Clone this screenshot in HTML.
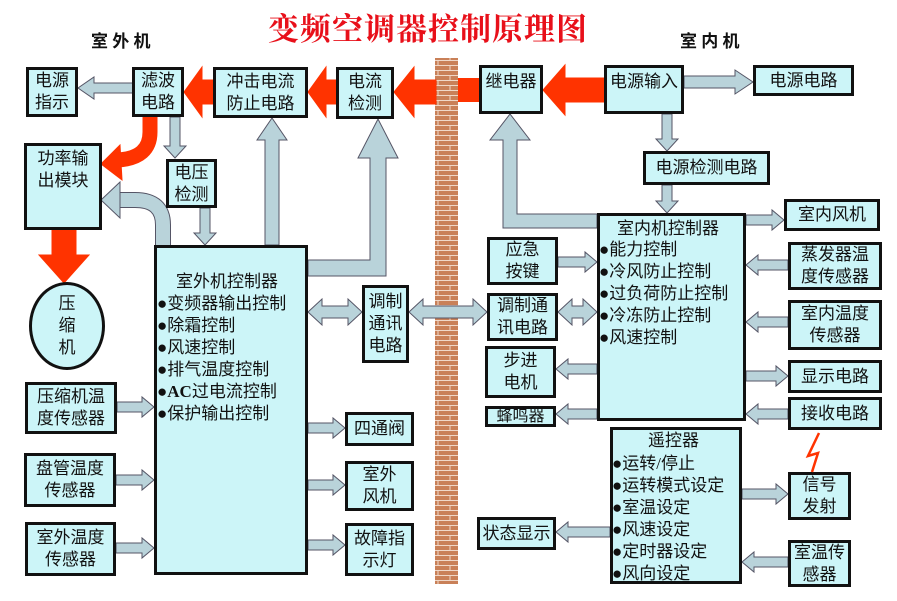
<!DOCTYPE html>
<html><head><meta charset="utf-8">
<style>
body{margin:0;width:897px;height:601px;background:#fff;position:relative;overflow:hidden;font-family:"Liberation Serif","Noto Sans CJK SC",sans-serif;}
.b{position:absolute;box-sizing:border-box;background:#ccf5f8;border:3px solid #111;display:flex;align-items:center;justify-content:center;text-align:center;font-size:17px;line-height:22px;color:#111;}
.l{position:absolute;font-size:17px;line-height:22px;color:#111;white-space:nowrap;}
svg{position:absolute;left:0;top:0;}
</style></head><body>
<svg width="897" height="601" id="s">
<defs><pattern id="br" width="24" height="10" patternUnits="userSpaceOnUse">
<rect width="24" height="10" fill="#c98058"/>
<path d="M0 0.5H24M0 5.5H24M6 0V5M18 5V10" stroke="#f0d8c8" stroke-width="1"/>
</pattern></defs>
<rect x="435" y="58" width="23" height="526" fill="url(#br)"/>
<g id="g"></g>
</svg>
<div style="position:absolute;left:268px;top:4px;font-size:31px;font-weight:bold;color:#e8101a;font-family:'Liberation Serif','Noto Serif CJK SC',serif;letter-spacing:1px;">变频空调器控制原理图</div>
<div class="l" style="left:91px;top:31px;font-weight:bold;font-size:17px;">室 外 机</div>
<div class="l" style="left:680px;top:31px;font-weight:bold;font-size:17px;">室 内 机</div>

<div class="b" style="left:26px;top:67px;width:52px;height:50px;">电源<br>指示</div>
<div class="b" style="left:132px;top:67px;width:52px;height:50px;">滤波<br>电路</div>
<div class="b" style="left:213px;top:67px;width:95px;height:51px;">冲击电流<br>防止电路</div>
<div class="b" style="left:336px;top:67px;width:58px;height:52px;">电流<br>检测</div>
<div class="b" style="left:24px;top:143px;width:78px;height:87px;align-items:flex-start;padding-top:2px;">功率输<br>出模块</div>
<div class="b" style="left:166px;top:159px;width:51px;height:49px;">电压<br>检测</div>
<div class="b" style="left:29px;top:282px;width:76px;height:88px;border-radius:50%;">压<br>缩<br>机</div>
<div class="b" style="left:154px;top:245px;width:154px;height:330px;"></div>
<div class="l" style="left:176px;top:271px;">室外机控制器</div>
<div class="l" style="left:157px;top:293px;line-height:22px;">●变频器输出控制<br>●除霜控制<br>●风速控制<br>●排气温度控制<br>●<b>AC</b>过电流控制<br>●保护输出控制</div>
<div class="b" style="left:362px;top:285px;width:47px;height:78px;">调制<br>通讯<br>电路</div>
<div class="b" style="left:25px;top:382px;width:92px;height:52px;">压缩机温<br>度传感器</div>
<div class="b" style="left:24px;top:453px;width:92px;height:54px;">盘管温度<br>传感器</div>
<div class="b" style="left:25px;top:522px;width:91px;height:54px;">室外温度<br>传感器</div>
<div class="b" style="left:345px;top:412px;width:69px;height:34px;">四通阀</div>
<div class="b" style="left:345px;top:461px;width:69px;height:50px;">室外<br>风机</div>
<div class="b" style="left:345px;top:523px;width:69px;height:53px;">故障指<br>示灯</div>

<div class="b" style="left:479px;top:65px;width:64px;height:49px;align-items:flex-start;padding-top:3px;">继电器</div>
<div class="b" style="left:604px;top:65px;width:80px;height:49px;align-items:flex-start;padding-top:3px;">电源输入</div>
<div class="b" style="left:753px;top:65px;width:101px;height:31px;">电源电路</div>
<div class="b" style="left:643px;top:151px;width:127px;height:34px;">电源检测电路</div>
<div class="b" style="left:597px;top:213px;width:149px;height:208px;"></div>
<div class="l" style="left:617px;top:218px;">室内机控制器</div>
<div class="l" style="left:599px;top:239px;">●能力控制<br>●冷风防止控制<br>●过负荷防止控制<br>●冷冻防止控制<br>●风速控制</div>
<div class="b" style="left:784px;top:199px;width:96px;height:32px;">室内风机</div>
<div class="b" style="left:487px;top:237px;width:71px;height:48px;">应急<br>按键</div>
<div class="b" style="left:788px;top:242px;width:94px;height:48px;">蒸发器温<br>度传感器</div>
<div class="b" style="left:487px;top:293px;width:71px;height:48px;">调制通<br>讯电路</div>
<div class="b" style="left:788px;top:300px;width:94px;height:50px;">室内温度<br>传感器</div>
<div class="b" style="left:485px;top:346px;width:71px;height:52px;">步进<br>电机</div>
<div class="b" style="left:788px;top:360px;width:94px;height:33px;">显示电路</div>
<div class="b" style="left:485px;top:406px;width:71px;height:21px;font-size:16px;">蜂鸣器</div>
<div class="b" style="left:788px;top:397px;width:94px;height:33px;">接收电路</div>
<div class="b" style="left:610px;top:427px;width:132px;height:157px;"></div>
<div class="l" style="left:648px;top:430px;">遥控器</div>
<div class="l" style="left:612px;top:453px;">●运转/停止<br>●运转模式设定<br>●室温设定<br>●风速设定<br>●定时器设定<br>●风向设定</div>
<div class="b" style="left:788px;top:472px;width:63px;height:48px;">信号<br>发射</div>
<div class="b" style="left:477px;top:517px;width:79px;height:33px;">状态显示</div>
<div class="b" style="left:788px;top:540px;width:63px;height:47px;">室温传<br>感器</div>

<svg width="897" height="601" id="s2"><g id="g2"></g></svg>
<script>
var out='';
function P(pts,fill,st){return '<polygon points="'+pts.map(p=>p.join(',')).join(' ')+'" fill="'+fill+'" stroke="'+(st||'#556')+'" stroke-width="1"/>';}
function A(x1,y1,x2,y2,t,hw,hl,fill,dbl,st){
 var dx=x2-x1,dy=y2-y1,len=Math.hypot(dx,dy),c=dx/len,s=dy/len;
 var loc=dbl?[[0,0],[hl,-hw/2],[hl,-t/2],[len-hl,-t/2],[len-hl,-hw/2],[len,0],[len-hl,hw/2],[len-hl,t/2],[hl,t/2],[hl,hw/2]]
 :[[0,-t/2],[len-hl,-t/2],[len-hl,-hw/2],[len,0],[len-hl,hw/2],[len-hl,t/2],[0,t/2]];
 out+=P(loc.map(p=>[x1+p[0]*c-p[1]*s,y1+p[0]*s+p[1]*c]),fill,st);
}
var L='#b9d3da',R='#ff3300';
A(436,92,394,92,24,50,20,R,0,R);
A(337,92,308,92,24,50,18,R,0,R);
A(213,92,184,92,24,50,18,R,0,R);
A(604,90,543,90,24,50,22,R,0,R);
out+='<rect x="458" y="78" width="21" height="24" fill="'+R+'"/>';
A(64,230,64,283,24,50,28,R,0,R);
out+='<path d="M150 117 V132 Q150 158 118 160" fill="none" stroke="'+R+'" stroke-width="15"/>';
out+=P([[120,145],[101,164],[122,180]],R,R);
A(133,88,78,88,10,22,16,L);
A(175,117,175,158,10,22,12,L);
A(205,208,205,245,10,22,12,L);
A(272,245,272,118,14,30,22,L);
out+=P([[308,276],[386,276],[386,158],[398,158],[378,119],[358,158],[370,158],[370,260],[308,260]],L,'#556');
out+='<path d="M163 245 V225 Q163 200 135 200 H118" fill="none" stroke="#556" stroke-width="16"/><path d="M163 245 V225 Q163 200 135 200 H118" fill="none" stroke="'+L+'" stroke-width="14"/>';
out+=P([[120,182],[101,200],[120,218]],L,'#556');
A(308,312,362,312,12,26,14,L,1);
A(409,312,487,312,12,26,14,L,1);
A(558,312,597,312,12,26,14,L,1);
A(117,407,154,407,10,20,12,L);
A(116,480,154,480,10,20,12,L);
A(116,548,154,548,10,20,12,L);
A(308,428,345,428,10,20,12,L);
A(308,485,345,485,10,20,12,L);
A(308,545,345,545,10,20,12,L);
A(684,82,753,82,12,24,18,L);
A(667,114,667,151,10,22,12,L);
A(667,185,667,213,10,22,12,L);
out+=P([[597,214],[517,214],[517,140],[530,140],[510,114],[490,140],[503,140],[503,228],[597,228]],L,'#556');
A(746,220,784,220,10,20,12,L);
A(558,262,597,262,10,20,12,L);
A(788,265,746,265,10,20,12,L);
A(788,322,746,322,10,20,12,L);
A(597,369,556,369,10,20,12,L);
A(746,376,788,376,10,20,12,L);
A(597,414,556,414,10,20,12,L);
A(788,414,746,414,10,20,12,L);
A(742,494,788,494,10,20,12,L);
A(610,532,556,532,10,20,12,L);
A(788,562,742,562,10,20,12,L);
document.getElementById('g').innerHTML=out;
document.getElementById('g2').innerHTML='<polyline points="819,433 808,456 818,453 812,472" fill="none" stroke="#ff3300" stroke-width="2.5"/>';
</script>
</body></html>
